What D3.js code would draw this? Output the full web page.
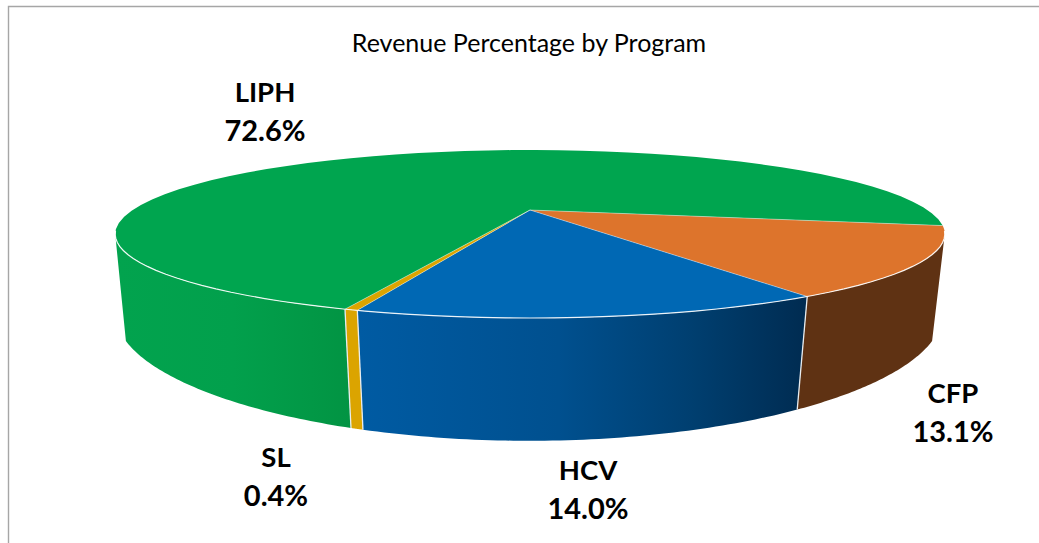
<!DOCTYPE html>
<html><head><meta charset="utf-8">
<script src="https://cdnjs.cloudflare.com/ajax/libs/d3/7.8.5/d3.min.js"></script>
<style>html,body{margin:0;padding:0;background:#fff}svg{display:block}text{font-family:Lato,"Open Sans",sans-serif;fill:#000}</style>
</head><body>
<svg id="c" width="1039" height="543"></svg>
<script>
const categories = ["CFP","HCV","SL","LIPH"];
const shares = [13.1,14.0,0.4,72.6];
const topColors = ["#dd742c","#0068b4","#dba400","#00a54f"];
const title = "Revenue Percentage by Program";
const labelPos = {CFP:[953,403],HCV:[588,480],SL:[276,467],LIPH:[265,102]};

const svg = d3.select("#c");
const rad = d => d*Math.PI/180;
const START = 11.0;        // first slice, degrees clockwise from 3 o'clock
const topP = {cx:530,y0:210,a:397.5,b:77.14,k:0.2857,kx:0.2857};
const botP = {cx:529,y0:284,a:400,b:112,k:0.2857,kx:0.25};
const project = (p,deg) => {
  const u=Math.cos(rad(deg)), v=Math.sin(rad(deg));
  return [p.cx+p.a*u/(1-p.kx*v), p.y0+p.b*v/(1-p.k*v)];
};
const pie = d3.pie().sort(null).value(d=>d).startAngle(0).endAngle(2*Math.PI);
const arcs = pie(shares).map((a,i)=>({
  name:categories[i], color:topColors[i],
  d0:a.startAngle*180/Math.PI+START, d1:a.endAngle*180/Math.PI+START
}));
const line = d3.line();
const sweep = (p,a,b) => d3.range(0,61).map(i=>project(p,a+(b-a)*i/60));

// gradients for the side wall
const defs = svg.append("defs");
const grad = (id,stops,x1,x2)=>{
  const g=defs.append("linearGradient").attr("id",id).attr("gradientUnits","userSpaceOnUse")
    .attr("x1",x1).attr("x2",x2).attr("y1",0).attr("y2",0);
  stops.forEach(s=>g.append("stop").attr("offset",s[0]).attr("stop-color",s[1]));
};
grad("wCFP",[[0,"#5f3213"],[1,"#5f3213"]],796,946);
grad("wHCV",[[0,"#005ba3"],[.45,"#00508f"],[.75,"#003f70"],[1,"#002c52"]],358,803);
grad("wSL",[[0,"#dba400"],[1,"#dba400"]],346,361);
grad("wLIPH",[[0,"#02a34e"],[.5,"#02a04c"],[1,"#029443"]],117,350);
const wallFill = {CFP:"url(#wCFP)",HCV:"url(#wHCV)",SL:"url(#wSL)",LIPH:"url(#wLIPH)"};

// frame
svg.append("path").attr("d","M8.5,543V6.5H1039").attr("fill","none").attr("stroke","#a6a6a6").attr("stroke-width",1.4);

// walls, front half only
const topVis=[16.6,163.4], botVis=[26.4,153.6];
arcs.forEach(s=>{
  const t0=Math.max(s.d0,topVis[0]), t1=Math.min(s.d1,topVis[1]);
  const b0=Math.max(s.d0,botVis[0]), b1=Math.min(s.d1,botVis[1]);
  if(t1<=t0) return;
  const pts=sweep(topP,t0,t1).concat(sweep(botP,b1,b0));
  svg.append("path").attr("d",line(pts)+"Z").attr("fill",wallFill[s.name]);
});
// wall seams
[arcs[1].d0,arcs[2].d0,arcs[2].d1].forEach(d=>{
  svg.append("path").attr("d",line([project(topP,d),project(botP,d)]))
    .attr("stroke","#e8edf0").attr("stroke-width",1.3).attr("fill","none");
});

// top face
arcs.forEach(s=>{
  const pts=[[topP.cx,topP.y0]].concat(sweep(topP,s.d0,s.d1));
  svg.append("path").attr("d",line(pts)+"Z").attr("fill",s.color);
});
// slice edges on top
arcs.forEach(s=>{
  svg.append("path").attr("d",line([[topP.cx,topP.y0],project(topP,s.d0)]))
    .attr("stroke","#fff").attr("stroke-opacity",.5).attr("stroke-width",.8).attr("fill","none");
});
// rim highlight
svg.append("path").attr("d",line(sweep(topP,topVis[0]-2,topVis[1]+2)))
  .attr("fill","none").attr("stroke","#fff").attr("stroke-width",1.2).attr("stroke-opacity",.9);

// texts
svg.append("text").attr("x",529).attr("y",52).attr("text-anchor","middle").attr("font-size",25).text(title);
arcs.forEach((s,i)=>{
  const [x,y]=labelPos[s.name];
  const g=svg.append("g").attr("font-weight",700).attr("text-anchor","middle");
  g.append("text").attr("x",x).attr("y",y).attr("font-size",27.5).text(s.name);
  g.append("text").attr("x",x).attr("y",y+39).attr("font-size",29).text(d3.format(".1f")(shares[i])+"%");
});
</script>
</body></html>
